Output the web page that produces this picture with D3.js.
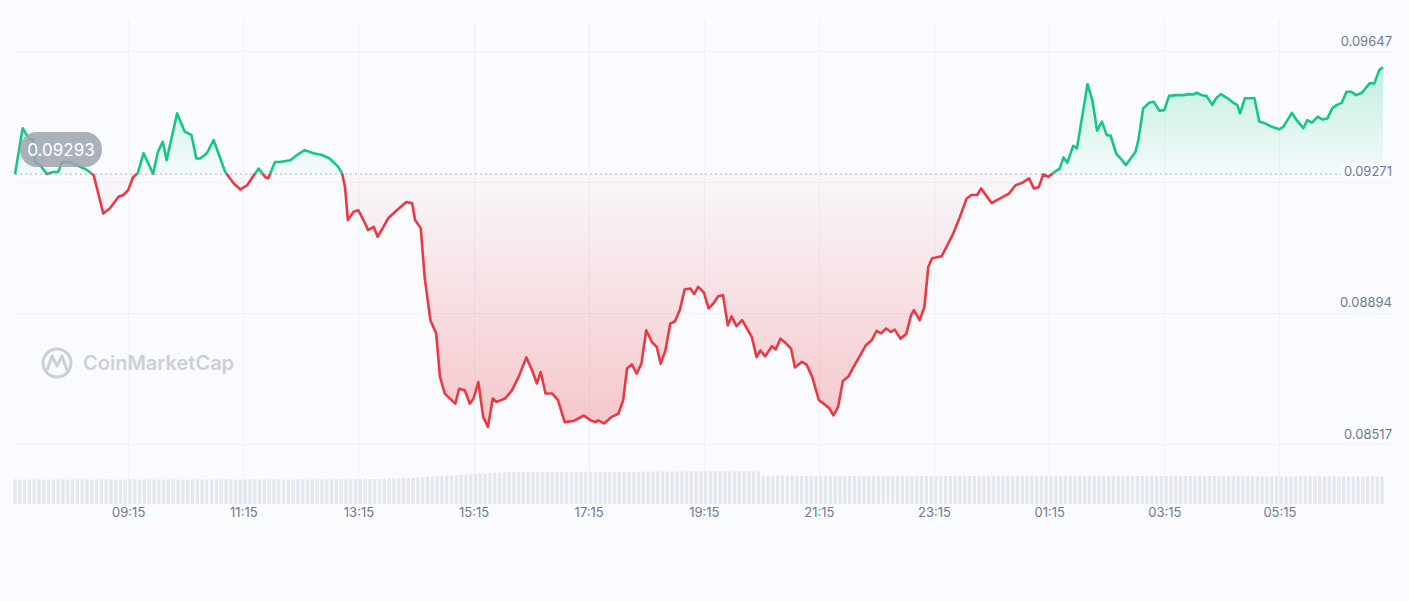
<!DOCTYPE html>
<html>
<head>
<meta charset="utf-8">
<script src="https://cdn.jsdelivr.net/npm/d3@7"></script>
<style>
  html, body { margin: 0; padding: 0; background: #f9fbfe; }
  svg { display: block; font-family: Inter, "Noto Sans", sans-serif; }
</style>
</head>
<body>
<svg id="chart" width="1409" height="601"></svg>
<script>
// ---------- DATA ----------
const times = [
  "07:17","07:25","07:31","07:36","07:38","07:43","07:50","07:57","08:02","08:06","08:14","08:21","08:32","08:39","08:49","08:56","09:05","09:10","09:15","09:20","09:25","09:31","09:41","09:46","09:51","09:55","10:06","10:14","10:21","10:26","10:30","10:37","10:44","10:56","11:05","11:12","11:19","11:26","11:31","11:38","11:41","11:48","11:53","12:04","12:11","12:19","12:28","12:37","12:45","12:54","12:58",
  "13:01","13:04","13:10","13:15","13:22","13:25","13:31","13:35","13:41","13:46","13:55","14:05","14:11","14:14","14:20","14:24","14:30","14:36","14:40","14:45","14:56","15:00","15:06","15:11","15:15","15:20","15:25","15:30","15:35","15:39","15:48","15:55","16:02","16:10","16:16","16:21","16:25","16:30","16:37","16:43","16:50","16:59","17:10","17:17","17:22","17:25","17:31","17:39","17:46","17:51","17:55","18:00","18:05","18:10","18:15","18:21","18:26","18:30","18:35","18:40","18:45","18:50","18:55","19:01","19:05","19:09","19:15","19:20","19:25","19:30","19:35","19:40","19:44","19:49","19:55","20:00","20:05","20:10","20:14","20:19","20:26","20:30","20:35","20:40","20:46","20:50","20:57","21:02","21:08","21:15","21:20","21:26","21:30","21:35","21:40","21:46","21:51","21:58","22:04","22:10","22:15","22:20","22:25","22:30","22:34","22:40","22:46","22:51","22:54","23:00","23:05","23:09","23:13","23:23","23:28","23:35","23:42","23:49","23:54",
  "00:00","00:04","00:15","00:24","00:33","00:40","00:47","00:54","00:59","01:04","01:09","01:14","01:21","01:26","01:30","01:34","01:40","01:44","01:55","02:00","02:05","02:10","02:15","02:19","02:25","02:31","02:35","02:40","02:45","02:48","02:53","02:59","03:04","03:10","03:15","03:20","03:28","03:35","03:40","03:45","03:49","03:54","03:59","04:05","04:09","04:14","04:21","04:27","04:31","04:34","04:39","04:49","04:54","05:00","05:07","05:15","05:19","05:28","05:33","05:40","05:44","05:49","05:55","06:00","06:05","06:10","06:15","06:20","06:25","06:30","06:35","06:41","06:49","06:54","06:59","07:03"
];
const prices = [
  0.09293,0.09425,0.09397,0.09391,0.09328,0.09319,0.09294,0.09299,0.09299,0.09328,0.09328,0.09319,0.09305,0.09290,0.09180,0.09195,0.09228,0.09233,0.09247,0.09284,0.09296,0.09353,0.09294,0.09357,0.09386,0.09333,0.09468,0.09415,0.09405,0.09338,0.09338,0.09353,0.09391,0.09300,0.09266,0.09249,0.09261,0.09290,0.09309,0.09284,0.09281,0.09328,0.09328,0.09333,0.09348,0.09362,0.09353,0.09348,0.09338,0.09314,0.09295,
  0.09256,0.09161,0.09185,0.09189,0.09151,0.09132,0.09141,0.09113,0.09141,0.09166,0.09189,0.09213,0.09209,0.09161,0.09137,0.08997,0.08873,0.08835,0.08710,0.08662,0.08633,0.08676,0.08671,0.08633,0.08648,0.08695,0.08595,0.08566,0.08648,0.08638,0.08648,0.08671,0.08710,0.08766,0.08729,0.08691,0.08724,0.08662,0.08662,0.08643,0.08580,0.08583,0.08599,0.08585,0.08580,0.08585,0.08576,0.08595,0.08604,0.08643,0.08734,0.08746,0.08719,0.08748,0.08844,0.08810,0.08796,0.08748,0.08786,0.08863,0.08870,0.08902,0.08961,0.08964,0.08948,0.08969,0.08953,0.08907,0.08921,0.08942,0.08945,0.08858,0.08884,0.08856,0.08873,0.08849,0.08825,0.08767,0.08786,0.08769,0.08798,0.08789,0.08820,0.08808,0.08791,0.08737,0.08753,0.08746,0.08710,0.08643,0.08633,0.08619,0.08599,0.08623,0.08698,0.08712,0.08738,0.08772,0.08801,0.08815,0.08842,0.08835,0.08849,0.08839,0.08846,0.08820,0.08833,0.08887,0.08902,0.08873,0.08911,0.09026,0.09051,0.09057,0.09084,0.09122,0.09170,0.09223,0.09233,
  0.09233,0.09252,0.09210,0.09223,0.09237,0.09261,0.09268,0.09281,0.09252,0.09255,0.09293,0.09285,0.09300,0.09309,0.09341,0.09326,0.09374,0.09367,0.09552,0.09506,0.09418,0.09444,0.09405,0.09404,0.09351,0.09333,0.09319,0.09338,0.09357,0.09391,0.09482,0.09498,0.09501,0.09475,0.09477,0.09518,0.09520,0.09520,0.09523,0.09522,0.09527,0.09520,0.09518,0.09492,0.09511,0.09523,0.09511,0.09498,0.09492,0.09468,0.09511,0.09511,0.09444,0.09439,0.09429,0.09422,0.09429,0.09469,0.09448,0.09425,0.09448,0.09441,0.09458,0.09450,0.09453,0.09482,0.09492,0.09498,0.09530,0.09530,0.09520,0.09527,0.09554,0.09554,0.09592,0.09600
];
// volume, one bar every 5 minutes from volumeStart
const volumeStart = "07:17";
const volumeStepMinutes = 5;
const volumes = [
  246,245,245,244,245,246,245,245,244,245,245,246,
  245,245,246,245,244,245,245,246,245,245,244,245,
  245,246,245,245,245,244,245,246,245,245,245,244,
  245,245,246,245,245,244,245,245,246,245,245,245,
  246,245,245,244,245,245,246,245,245,245,244,245,
  245,246,245,245,245,246,245,246,247,247,248,248,
  249,250,250,251,252,253,254,255,256,258,260,262,
  265,268,270,273,276,279,282,285,288,291,294,297,
  300,303,306,309,312,314,316,318,319,320,320,320,
  321,320,321,321,320,321,322,321,320,321,321,322,
  321,322,322,321,322,323,322,322,323,322,323,324,
  323,324,324,325,324,325,326,325,326,326,327,326,
  327,327,326,327,328,327,327,328,327,327,328,327,
  286,285,285,284,284,283,283,282,282,281,281,281,
  281,280,280,281,280,280,281,280,280,280,281,280,
  280,280,281,280,280,280,281,280,280,281,280,280,
  280,281,280,280,281,281,280,281,281,282,281,281,
  282,281,282,282,281,282,282,283,282,282,283,282,
  283,283,282,283,283,282,283,282,283,283,282,282,
  282,281,282,281,281,280,281,281,280,281,280,280,
  280,279,280,279,279,280,279,279,278,279,279,278,
  278,278,277,278,277,277,278,277,277,276,277,277,
  276,277,276,276,277,276,276,275,276,276,275,276,
  275,276,275,275,276,275,275,276,275,275
];
const xTickLabels = ["09:15","11:15","13:15","15:15","17:15","19:15","21:15","23:15","01:15","03:15","05:15"];
const yTickValues = [0.09647, 0.09271, 0.08894, 0.08517];
const watermark = "CoinMarketCap";

// ---------- HELPERS ----------
const base = new Date(2024, 0, 1, 0, 0);
function parseSeq(list) {
  let dayOffset = 0, prev = -1;
  return list.map(s => {
    const [h, m] = s.split(":").map(Number);
    const mins = h * 60 + m;
    if (prev >= 0 && mins < prev) dayOffset += 1;
    prev = mins;
    return new Date(2024, 0, 1 + dayOffset, h, m);
  });
}
const dates = parseSeq(times);
const data = dates.map((d, i) => ({ t: d, v: prices[i] }));
const tickDates = parseSeq(xTickLabels);
const vStart = parseSeq([volumeStart])[0];
const volData = volumes.map((v, i) => ({ t: new Date(vStart.getTime() + i * volumeStepMinutes * 60000), v }));

// ---------- SCALES ----------
const svg = d3.select("#chart");
const W = 1409, H = 601;
const x = d3.scaleTime().domain(d3.extent(dates)).range([15, 1383]);
const y = d3.scaleLinear().domain([0.08517, 0.09647]).range([444, 51]);
const yVol = d3.scaleLinear().domain([0, 330]).range([504, 471]);

const baseVal = prices[0];
const baseY = y(baseVal);

svg.append("rect").attr("width", W).attr("height", H).attr("fill", "#f9fbfe");

// defs
const defs = svg.append("defs");
const gGreen = defs.append("linearGradient").attr("id", "gGreen")
  .attr("gradientUnits", "userSpaceOnUse").attr("x1", 0).attr("x2", 0)
  .attr("y1", y(d3.max(prices))).attr("y2", baseY);
gGreen.append("stop").attr("offset", 0).attr("stop-color", "#16c784").attr("stop-opacity", 0.24);
gGreen.append("stop").attr("offset", 1).attr("stop-color", "#16c784").attr("stop-opacity", 0.02);
const gRed = defs.append("linearGradient").attr("id", "gRed")
  .attr("gradientUnits", "userSpaceOnUse").attr("x1", 0).attr("x2", 0)
  .attr("y1", baseY).attr("y2", y(d3.min(prices)));
gRed.append("stop").attr("offset", 0).attr("stop-color", "#ea3943").attr("stop-opacity", 0.02);
gRed.append("stop").attr("offset", 1).attr("stop-color", "#ea3943").attr("stop-opacity", 0.27);

defs.append("clipPath").attr("id", "clipAbove").append("rect")
  .attr("x", 0).attr("y", 0).attr("width", W).attr("height", baseY);
defs.append("clipPath").attr("id", "clipBelow").append("rect")
  .attr("x", 0).attr("y", baseY).attr("width", W).attr("height", H - baseY);

// ---------- GRID ----------
const grid = svg.append("g");
grid.selectAll("line.h").data(yTickValues).join("line")
  .attr("x1", 15).attr("x2", 1392)
  .attr("y1", d => Math.round(y(d)) + 0.5).attr("y2", d => Math.round(y(d)) + 0.5)
  .attr("stroke", "#eef1f6").attr("stroke-width", 1);
grid.selectAll("line.v").data(tickDates).join("line")
  .attr("x1", d => Math.round(x(d)) + 0.5).attr("x2", d => Math.round(x(d)) + 0.5)
  .attr("y1", 20).attr("y2", 505)
  .attr("stroke", "#eef1f6").attr("stroke-width", 1);

// ---------- WATERMARK ----------
const wm = svg.append("g").attr("fill", "none").attr("stroke", "#cbd0d7");
wm.append("circle").attr("cx", 57).attr("cy", 363).attr("r", 14).attr("stroke-width", 3);
wm.append("path").attr("d", "M47,370 L52,356 L57,366 L62,356 L67,370").attr("stroke-width", 3)
  .attr("stroke-linejoin", "round").attr("stroke-linecap", "round");
svg.append("text").attr("x", 83).attr("y", 370).attr("fill", "#cbd0d7")
  .attr("font-size", 20).attr("font-weight", 600).text(watermark);

// ---------- VOLUME ----------
svg.append("g").selectAll("rect").data(volData).join("rect")
  .attr("x", d => x(d.t) - 1.6).attr("width", 3.2)
  .attr("y", d => yVol(d.v)).attr("height", d => yVol(0) - yVol(d.v))
  .attr("fill", "#e4e7ee");

// ---------- AREAS & LINES ----------
const area = d3.area().x(d => x(d.t)).y0(baseY).y1(d => y(d.v));
const line = d3.line().x(d => x(d.t)).y(d => y(d.v));

svg.append("path").datum(data).attr("d", area).attr("fill", "url(#gGreen)").attr("clip-path", "url(#clipAbove)");
svg.append("path").datum(data).attr("d", area).attr("fill", "url(#gRed)").attr("clip-path", "url(#clipBelow)");

// baseline dotted
svg.append("line").attr("x1", 15).attr("x2", 1383)
  .attr("y1", baseY).attr("y2", baseY)
  .attr("stroke", "#b8bfcc").attr("stroke-width", 1.2).attr("stroke-dasharray", "2,3");

svg.append("path").datum(data).attr("d", line).attr("fill", "none")
  .attr("stroke", "#16c784").attr("stroke-width", 2.6).attr("stroke-linejoin", "round")
  .attr("clip-path", "url(#clipAbove)");
svg.append("path").datum(data).attr("d", line).attr("fill", "none")
  .attr("stroke", "#ea3943").attr("stroke-width", 2.6).attr("stroke-linejoin", "round")
  .attr("clip-path", "url(#clipBelow)");

// ---------- AXES ----------
const xAxis = d3.axisBottom(x).tickValues(tickDates).tickFormat(d3.timeFormat("%H:%M")).tickSize(0).tickPadding(0);
const gx = svg.append("g").attr("transform", "translate(0,505)").call(xAxis);
gx.select(".domain").remove();
gx.selectAll("text").attr("dy", 0).attr("y", 12).attr("font-size", 13).attr("fill", "#6f7a8e")
  .attr("font-family", "Inter, 'Noto Sans', sans-serif");

const yAxis = d3.axisRight(y).tickValues(yTickValues).tickFormat(d3.format(".5f")).tickSize(0).tickPadding(0);
const gy = svg.append("g").attr("transform", "translate(1392,0)").call(yAxis);
gy.select(".domain").remove();
gy.selectAll(".tick").each(function() {
  const t = d3.select(this);
  const txt = t.select("text");
  txt.attr("text-anchor", "end").attr("x", 0).attr("dy", 0).attr("y", -6)
    .attr("font-size", 13).attr("fill", "#6f7a8e").attr("font-family", "Inter, 'Noto Sans', sans-serif");
  const bb = txt.node().getBBox();
  t.insert("rect", "text").attr("x", bb.x - 3).attr("y", bb.y).attr("width", bb.width + 3).attr("height", bb.height)
    .attr("fill", "#f9fbfe");
});

// ---------- START PRICE PILL ----------
const pill = svg.append("g");
pill.append("rect").attr("x", 20).attr("y", 132).attr("width", 82).attr("height", 35).attr("rx", 17)
  .attr("fill", "#9ca3af").attr("fill-opacity", 0.85);
pill.append("text").attr("x", 61).attr("y", 155.5).attr("text-anchor", "middle")
  .attr("font-size", 17).attr("fill", "#ffffff").text(d3.format(".5f")(baseVal));

if (times.length !== prices.length) {
  svg.append("text").attr("x", 500).attr("y", 580).attr("fill", "red").text("LEN MISMATCH " + times.length + " vs " + prices.length);
}
</script>
</body>
</html>
